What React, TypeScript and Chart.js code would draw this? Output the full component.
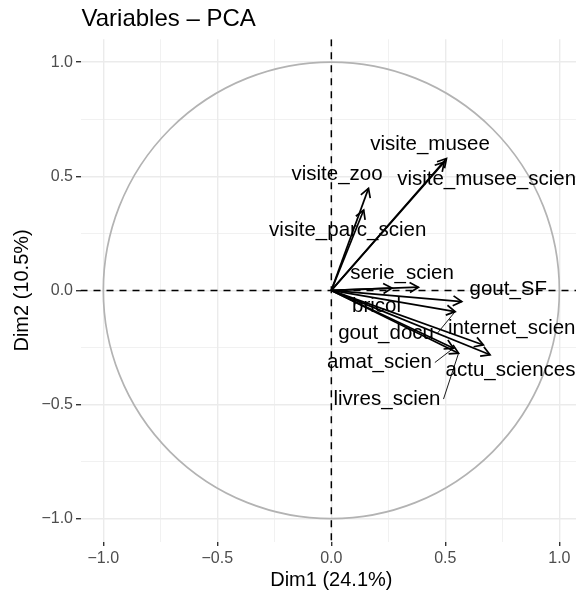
import React, { useEffect, useRef } from "react";
import { Chart, registerables } from "chart.js";
Chart.register(...registerables);

const variables = [
  "visite_musee",
  "visite_musee_scien",
  "visite_zoo",
  "visite_parc_scien",
  "serie_scien",
  "bricol",
  "gout_SF",
  "gout_docu",
  "internet_scien",
  "actu_sciences",
  "amat_scien",
  "livres_scien",
];
const dim1 = [0.505, 0.495, 0.163, 0.142, 0.382, 0.266, 0.572, 0.543, 0.667, 0.696, 0.536, 0.558];
const dim2 = [0.578, 0.562, 0.447, 0.352, 0.014, 0.01, -0.049, -0.093, -0.239, -0.282, -0.253, -0.275];
const labelDim1 = [0.433, 0.681, 0.025, 0.072, 0.31, 0.198, 0.776, 0.24, 0.791, 0.786, 0.211, 0.244];
const labelDim2 = [0.641, 0.488, 0.508, 0.263, 0.075, -0.068, 0.005, -0.19, -0.165, -0.351, -0.316, -0.476];
const hasLeader = [false, false, false, false, false, false, false, true, false, false, true, true];
const majorTicks = [-1, -0.5, 0, 0.5, 1];
const minorTicks = [-0.75, -0.25, 0.25, 0.75];
const titleText = "Variables \u2013 PCA";
const xTitle = "Dim1 (24.1%)";
const yTitle = "Dim2 (10.5%)";

const FONT = '"Liberation Sans", Arial, Helvetica, sans-serif';
const allTicks = [...majorTicks, ...minorTicks].sort((a, b) => a - b);
const isMajor = (v: number) => majorTicks.some((m) => Math.abs(m - v) < 1e-9);
const fmt = (v: number) => (v < 0 ? "\u2212" + Math.abs(v).toFixed(1) : v.toFixed(1));

const pcaPlugin = {
  id: "pcaDecor",
  beforeDatasetsDraw(chart: any) {
    const { ctx, chartArea, scales } = chart;
    const x = scales.x, y = scales.y;
    const cx = x.getPixelForValue(0), cy = y.getPixelForValue(0);
    const rx = x.getPixelForValue(1) - cx;
    const ry = cy - y.getPixelForValue(1);
    ctx.save();
    ctx.beginPath();
    ctx.rect(chartArea.left, chartArea.top, chartArea.right - chartArea.left, chartArea.bottom - chartArea.top);
    ctx.clip();
    ctx.strokeStyle = "#B3B3B3";
    ctx.lineWidth = 1.7;
    ctx.beginPath();
    ctx.ellipse(cx, cy, rx, ry, 0, 0, Math.PI * 2);
    ctx.stroke();
    ctx.strokeStyle = "#000000";
    ctx.lineWidth = 1.5;
    ctx.setLineDash([7, 6]);
    ctx.beginPath();
    ctx.moveTo(chartArea.left, cy);
    ctx.lineTo(chartArea.right, cy);
    ctx.stroke();
    ctx.beginPath();
    ctx.moveTo(cx, chartArea.top);
    ctx.lineTo(cx, chartArea.bottom);
    ctx.stroke();
    ctx.restore();
  },
  afterDatasetsDraw(chart: any) {
    const { ctx, scales } = chart;
    const x = scales.x, y = scales.y;
    ctx.save();
    ctx.strokeStyle = "#000000";
    ctx.lineWidth = 1.7;
    ctx.lineCap = "butt";
    chart.data.datasets.forEach((_: any, i: number) => {
      const meta = chart.getDatasetMeta(i);
      const p0 = meta.data[0], p1 = meta.data[1];
      if (!p0 || !p1) return;
      const ang = Math.atan2(p1.y - p0.y, p1.x - p0.x);
      const L = 10, a = Math.PI / 6;
      ctx.beginPath();
      ctx.moveTo(p1.x - L * Math.cos(ang - a), p1.y - L * Math.sin(ang - a));
      ctx.lineTo(p1.x, p1.y);
      ctx.lineTo(p1.x - L * Math.cos(ang + a), p1.y - L * Math.sin(ang + a));
      ctx.stroke();
    });
    ctx.font = "20.5px " + FONT;
    ctx.fillStyle = "#000000";
    ctx.textAlign = "center";
    ctx.textBaseline = "middle";
    variables.forEach((name, i) => {
      const lx = x.getPixelForValue(labelDim1[i]);
      const ly = y.getPixelForValue(labelDim2[i]);
      ctx.fillText(name, lx, ly);
      if (hasLeader[i]) {
        const tx = x.getPixelForValue(dim1[i]);
        const ty = y.getPixelForValue(dim2[i]);
        const hw = ctx.measureText(name).width / 2 + 3;
        const hh = 11;
        const cands = [
          [lx + hw, ly],
          [lx - hw, ly],
          [lx, ly - hh],
          [lx, ly + hh],
        ];
        let best = cands[0], bd = Infinity;
        cands.forEach((c) => {
          const d = Math.hypot(c[0] - tx, c[1] - ty);
          if (d < bd) { bd = d; best = c; }
        });
        ctx.lineWidth = 0.9;
        ctx.beginPath();
        ctx.moveTo(best[0], best[1]);
        ctx.lineTo(tx, ty);
        ctx.stroke();
      }
    });
    ctx.restore();
  },
  afterDraw(chart: any) {
    const { ctx, chartArea, scales } = chart;
    const x = scales.x, y = scales.y;
    ctx.save();
    ctx.fillStyle = "#000000";
    ctx.font = "24px " + FONT;
    ctx.textAlign = "left";
    ctx.textBaseline = "alphabetic";
    ctx.fillText(titleText, chartArea.left + 1, 26);
    ctx.font = "20px " + FONT;
    ctx.textAlign = "center";
    ctx.fillText(xTitle, x.getPixelForValue(0), 586);
    ctx.translate(28, y.getPixelForValue(0));
    ctx.rotate(-Math.PI / 2);
    ctx.fillText(yTitle, 0, 0);
    ctx.restore();
  },
};

function axisOptions(min: number, max: number, isX: boolean) {
  return {
    type: "linear" as const,
    min,
    max,
    afterBuildTicks: (s: any) => {
      s.ticks = allTicks.map((v) => ({ value: v }));
    },
    afterFit: (s: any) => {
      if (isX) s.height = 54.5;
      else s.width = 80.5;
    },
    border: { display: false },
    grid: {
      color: "#EBEBEB",
      lineWidth: (c: any) => (c.tick && isMajor(c.tick.value) ? 1.4 : 0.7),
      tickColor: (c: any) => (c.tick && isMajor(c.tick.value) ? "#333333" : "rgba(0,0,0,0)"),
      tickWidth: 1.4,
      tickLength: 4.5,
      drawTicks: true,
    },
    ticks: {
      autoSkip: false,
      maxRotation: 0,
      padding: 3,
      color: "#4D4D4D",
      font: { size: 16, family: FONT },
      callback: (v: any) => (isMajor(Number(v)) ? fmt(Number(v)) : ""),
    },
  };
}

export default function App() {
  const ref = useRef<HTMLCanvasElement | null>(null);
  useEffect(() => {
    if (!ref.current) return;
    const datasets = variables.map((name, i) => ({
      label: name,
      type: "line" as const,
      data: [
        { x: 0, y: 0 },
        { x: dim1[i], y: dim2[i] },
      ],
      borderColor: "#000000",
      borderWidth: 1.7,
      pointRadius: 0,
      showLine: true,
      fill: false,
    }));
    const chart = new Chart(ref.current, {
      type: "scatter",
      data: { datasets },
      options: {
        responsive: false,
        maintainAspectRatio: false,
        animation: false,
        layout: { padding: { top: 39.3, left: 0, right: 0, bottom: 0 } },
        plugins: {
          legend: { display: false },
          tooltip: { enabled: false },
          title: { display: false },
        },
        scales: {
          x: axisOptions(-1.1, 1.073, true),
          y: axisOptions(-1.1, 1.1, false),
        },
      } as any,
      plugins: [pcaPlugin],
    });
    return () => chart.destroy();
  }, []);
  return (
    <div style={{ position: "fixed", left: 0, top: 0, width: 576, height: 596, background: "#fff" }}>
      <canvas ref={ref} width={576} height={596} style={{ width: 576, height: 596, display: "block" }} />
    </div>
  );
}
